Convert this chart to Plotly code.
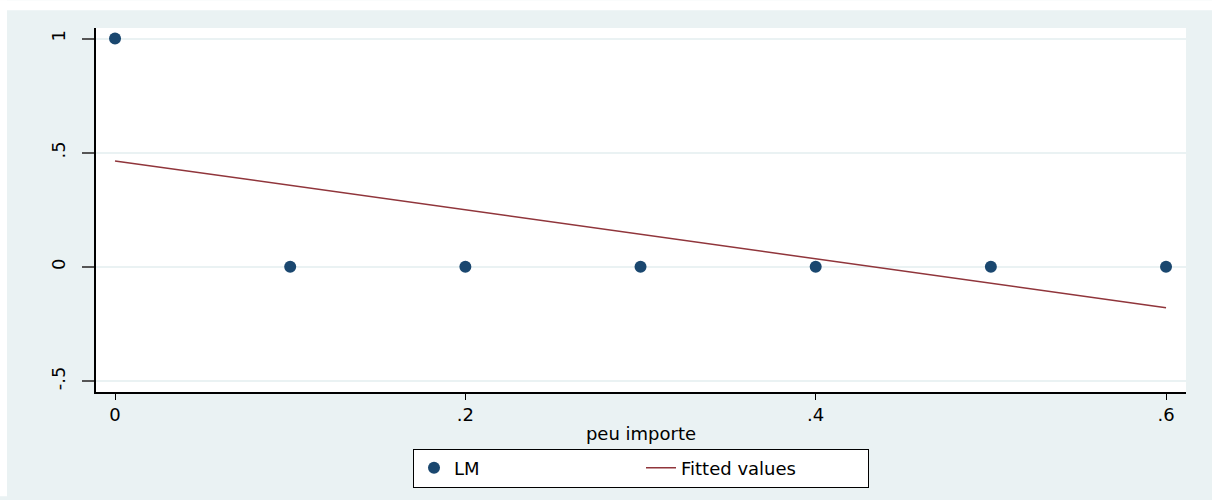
import plotly.graph_objects as go

# Data
x_vals = [0.0, 0.1, 0.2, 0.3, 0.4, 0.5, 0.6]
lm_vals = [1, 0, 0, 0, 0, 0, 0]
fitted_vals = [0.464, 0.357, 0.250, 0.143, 0.036, -0.071, -0.179]

x_tickvals = [0, 0.2, 0.4, 0.6]
x_ticktext = ["0", ".2", ".4", ".6"]
y_tickvals = [-0.5, 0, 0.5, 1]
y_ticktext = ["-.5", "0", ".5", "1"]

BG = "#EAF2F3"
NAVY = "#1A476F"
MAROON = "#90353B"
FONT = "DejaVu Sans, Liberation Sans, Arial, sans-serif"

fig = go.Figure()
fig.add_trace(go.Scatter(
    x=x_vals, y=lm_vals, mode="markers", name="LM",
    marker=dict(color=NAVY, size=12, line=dict(width=0)),
))
fig.add_trace(go.Scatter(
    x=x_vals, y=fitted_vals, mode="lines", name="Fitted values",
    line=dict(color=MAROON, width=1.5),
))

W, H = 1212, 500
L, R, T, B = 96, 1186, 28, 395
pw, ph = R - L, B - T

def px_x(x):
    return (x - L) / pw

def px_y(y):
    return (B - y) / ph

fig.update_layout(
    width=W, height=H,
    margin=dict(l=L, r=W - R, t=T, b=H - B, pad=0),
    paper_bgcolor=BG,
    plot_bgcolor="white",
    font=dict(family=FONT, size=18, color="black"),
    showlegend=True,
    legend=dict(
        orientation="h",
        x=0.5, xanchor="center",
        y=px_y(452), yanchor="top",
        bgcolor="white",
        bordercolor="black",
        borderwidth=1,
        font=dict(family=FONT, size=18, color="black"),
        entrywidth=182,
        entrywidthmode="pixels",
    ),
    xaxis=dict(
        range=[-0.01086, 0.6114],
        tickvals=x_tickvals, ticktext=x_ticktext,
        showgrid=False, zeroline=False,
        showline=True, linecolor="black", linewidth=1.5,
        ticks="outside", ticklen=6, tickcolor="black", tickwidth=1,
        tickfont=dict(family=FONT, size=18),
        title=dict(text="peu importe", font=dict(family=FONT, size=18), standoff=3),
    ),
    yaxis=dict(
        range=[-0.548, 1.046],
        tickvals=y_tickvals, ticktext=y_ticktext,
        showgrid=True, gridcolor=BG, gridwidth=1.5,
        zeroline=False,
        showline=True, linecolor="black", linewidth=1.5,
        ticks="outside", ticklen=12, tickcolor="#555555", tickwidth=1.5,
        tickangle=-90,
        ticklabelstandoff=10,
        tickfont=dict(family=FONT, size=18),
    ),
    shapes=[
        dict(type="rect", xref="paper", yref="paper", layer="above",
             x0=px_x(0), x1=px_x(W), y0=px_y(10), y1=px_y(0),
             fillcolor="white", line=dict(width=0)),
        dict(type="rect", xref="paper", yref="paper", layer="above",
             x0=px_x(0), x1=px_x(7), y0=px_y(H), y1=px_y(0),
             fillcolor="white", line=dict(width=0)),
    ],
)

fig.write_html(
    "out.html",
    config={"displayModeBar": False},
    post_script="document.body.style.margin='0';document.body.style.overflow='hidden';",
)
